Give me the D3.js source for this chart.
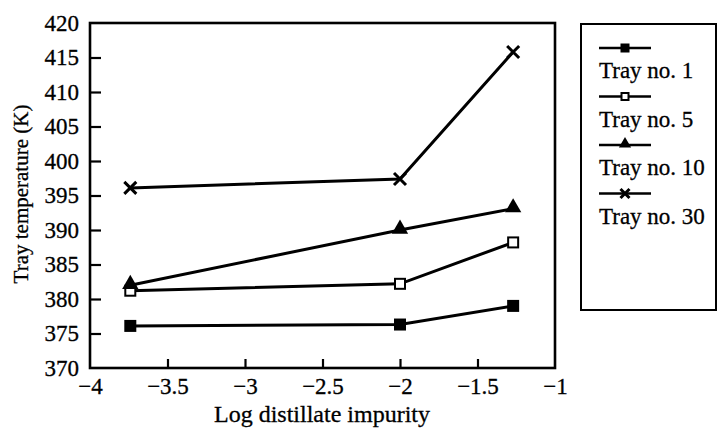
<!DOCTYPE html>
<html>
<head>
<meta charset="utf-8">
<script src="https://cdn.jsdelivr.net/npm/d3@7"></script>
<style>
  body { margin: 0; background: #fff; }
  svg text { font-family: "Liberation Serif", "DejaVu Serif", serif; fill: #000; stroke: #000; stroke-width: 0.3px; }
</style>
</head>
<body>
<div id="chart"></div>
<script>
// Data
const impurity = [-3.74, -2.0, -1.27];
const tray1 = [376.1, 376.3, 379.0];
const tray5 = [381.2, 382.2, 388.2];
const tray10 = [382.0, 390.0, 393.1];
const tray30 = [396.1, 397.4, 415.8];
const seriesNames = ["Tray no. 1", "Tray no. 5", "Tray no. 10", "Tray no. 30"];
const seriesSymbols = ["square", "openSquare", "triangle", "cross"];
const xTicks = [-4, -3.5, -3, -2.5, -2, -1.5, -1];
const yTicks = [370, 375, 380, 385, 390, 395, 400, 405, 410, 415, 420];

const allSeries = [tray1, tray5, tray10, tray30];

const W = 717, H = 433;
const margin = {top: 23, right: 162, bottom: 65, left: 90};
const fontSize = "23px";

const svg = d3.select("#chart").append("svg")
    .attr("width", W)
    .attr("height", H);

const x = d3.scaleLinear().domain([-4, -1]).range([margin.left, W - margin.right]);
const y = d3.scaleLinear().domain([370, 420]).range([H - margin.bottom, margin.top]);

// Frame
svg.append("rect")
    .attr("x", x(-4)).attr("y", y(420))
    .attr("width", x(-1) - x(-4)).attr("height", y(370) - y(420))
    .attr("fill", "none").attr("stroke", "#000").attr("stroke-width", 2.6);

// Axes with inward ticks
const xAxis = svg.append("g")
    .attr("transform", `translate(0,${y(370)})`)
    .call(d3.axisBottom(x).tickValues(xTicks).tickSizeInner(-9).tickSizeOuter(0)
        .tickPadding(10).tickFormat(d => d3.format("")(d).replace("-", "\u2013")));
xAxis.select(".domain").remove();
xAxis.selectAll("line").attr("stroke", "#000").attr("stroke-width", 2.2);
xAxis.selectAll(".tick").filter(d => d === -4 || d === -1).select("line").remove();
xAxis.selectAll("text").style("font-size", fontSize).attr("font-family", null);

const yAxis = svg.append("g")
    .attr("transform", `translate(${x(-4)},0)`)
    .call(d3.axisLeft(y).tickValues(yTicks).tickSizeInner(-11).tickSizeOuter(0).tickPadding(11));
yAxis.select(".domain").remove();
yAxis.selectAll("line").attr("stroke", "#000").attr("stroke-width", 2.2);
yAxis.selectAll(".tick").filter(d => d === 370 || d === 420).select("line").remove();
yAxis.selectAll("text").style("font-size", fontSize).attr("font-family", null);

// Axis titles
svg.append("text")
    .attr("x", 322)
    .attr("y", 422)
    .attr("text-anchor", "middle")
    .style("font-size", "24px")
    .text("Log distillate impurity");

svg.append("text")
    .attr("transform", `translate(28,194) rotate(-90)`)
    .attr("text-anchor", "middle")
    .style("font-size", "21px")
    .text("Tray temperature (K)");

// Marker drawing
function drawMarker(g, type, cx, cy, s) {
    const h = s / 2;
    if (type === "square") {
        g.append("rect").attr("x", cx - h).attr("y", cy - h).attr("width", s).attr("height", s)
            .attr("fill", "#000");
    } else if (type === "openSquare") {
        g.append("rect").attr("x", cx - h + 1).attr("y", cy - h + 1).attr("width", s - 2).attr("height", s - 2)
            .attr("fill", "#fff").attr("stroke", "#000").attr("stroke-width", 2);
    } else if (type === "triangle") {
        g.append("path").attr("d", d3.symbol(d3.symbolTriangle, s * s * 0.8)())
            .attr("transform", `translate(${cx},${cy - 1})`).attr("fill", "#000");
    } else {
        g.append("path").attr("d", `M${cx - h},${cy - h}L${cx + h},${cy + h}M${cx - h},${cy + h}L${cx + h},${cy - h}`)
            .attr("stroke", "#000").attr("stroke-width", 3);
    }
}

const line = d3.line().x((d, i) => x(impurity[i])).y(d => y(d));

allSeries.forEach((vals, k) => {
    const g = svg.append("g");
    g.append("path").attr("d", line(vals))
        .attr("fill", "none").attr("stroke", "#000").attr("stroke-width", 3);
    vals.forEach((v, i) => drawMarker(g, seriesSymbols[k], x(impurity[i]), y(v), 12));
});

// Legend
const legend = svg.append("g");
legend.append("rect")
    .attr("x", 581).attr("y", 24).attr("width", 135).attr("height", 286)
    .attr("fill", "none").attr("stroke", "#000").attr("stroke-width", 2);

seriesNames.forEach((name, k) => {
    const ly = 48 + k * 48.5;
    const g = legend.append("g");
    g.append("line").attr("x1", 599).attr("x2", 651).attr("y1", ly).attr("y2", ly)
        .attr("stroke", "#000").attr("stroke-width", 2.6);
    drawMarker(g, seriesSymbols[k], 625, ly, 9);
    g.append("text").attr("x", 599).attr("y", ly + 30)
        .style("font-size", fontSize).text(name);
});
</script>
</body>
</html>
